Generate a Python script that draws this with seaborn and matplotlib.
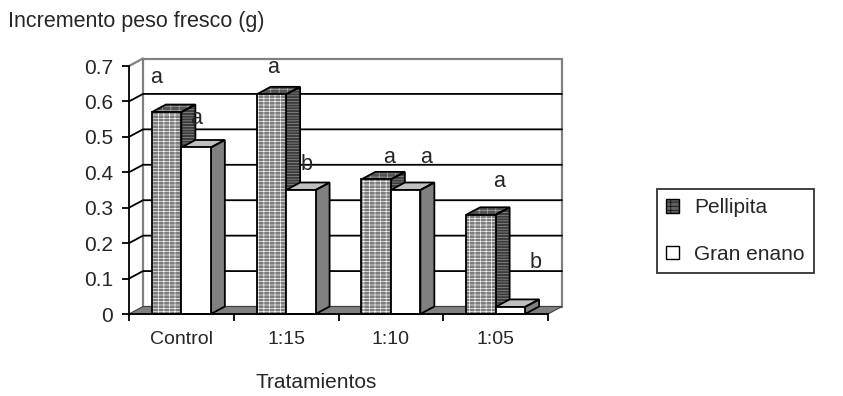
import matplotlib
matplotlib.use("Agg")
import matplotlib.pyplot as plt
from matplotlib.patches import Polygon, Patch
import numpy as np
import pandas as pd
import seaborn as sns

# ---- data ----
categories = ["Control", "1:15", "1:10", "1:05"]
series = ["Pellipita", "Gran enano"]
pellipita = [0.57, 0.62, 0.38, 0.28]
gran_enano = [0.47, 0.35, 0.35, 0.02]
letters_pellipita = ["a", "a", "a", "a"]
letters_gran_enano = ["a", "b", "a", "b"]
y_ticks = [0, 0.1, 0.2, 0.3, 0.4, 0.5, 0.6, 0.7]
y_tick_labels = ["0", "0.1", "0.2", "0.3", "0.4", "0.5", "0.6", "0.7"]

df = pd.DataFrame({
    "Tratamiento": categories * 2,
    "Variedad": [series[0]] * len(categories) + [series[1]] * len(categories),
    "valor": pellipita + gran_enano,
})

# ---- style ----
sns.set_style("white")
plt.rcParams["font.family"] = ["Liberation Sans", "DejaVu Sans"]
plt.rcParams["hatch.linewidth"] = 0.45

W, H = 843, 396
fig = plt.figure(figsize=(W / 100, H / 100), dpi=100)
ax = fig.add_axes([129 / W, (H - 314) / H, (548 - 129) / W, (314 - 66) / H])

sns.barplot(data=df, x="Tratamiento", y="valor", hue="Variedad",
            order=categories, hue_order=series,
            palette=["#7c7c7c", "#ffffff"], width=0.5626, gap=0,
            linewidth=0, legend=False, ax=ax)

ax.set_xlim(-0.5, len(categories) - 0.5)
ax.set_ylim(0, 0.7)

# depth of the 3-D look, in data units (x: categories, y: value)
DX = 14 / 104.75
DY = 7.5 / 354.3
x0, x1 = -0.5, len(categories) - 0.5
ytop = y_ticks[-1]

# back wall, floor and grid
ax.add_patch(Polygon([(x0 + DX, DY), (x1 + DX, DY), (x1 + DX, ytop + DY), (x0 + DX, ytop + DY)],
                     closed=True, facecolor="white", edgecolor="#808080", lw=1.6,
                     clip_on=False, zorder=0.5))
ax.plot([x0, x0 + DX], [ytop, ytop + DY], color="#808080", lw=1.6, clip_on=False, zorder=0.6)
for v in y_ticks[1:-1]:
    ax.plot([x0, x0 + DX, x1 + DX], [v, v + DY, v + DY], color="black", lw=1.3,
            clip_on=False, zorder=0.7)
ax.add_patch(Polygon([(x0, 0), (x1, 0), (x1 + DX, DY), (x0 + DX, DY)], closed=True,
                     facecolor="#808080", edgecolor="#404040", lw=0.8,
                     clip_on=False, zorder=0.8))


def face(verts, color, hatch, hatch_color, z):
    ax.add_patch(Polygon(verts, closed=True, facecolor=color, lw=0, clip_on=False, zorder=z))
    if hatch:
        ax.add_patch(Polygon(verts, closed=True, fill=False, hatch=hatch,
                             edgecolor=hatch_color, lw=0, clip_on=False, zorder=z + 0.01))
    ax.add_patch(Polygon(verts, closed=True, fill=False, edgecolor="black", lw=1.3,
                         clip_on=False, joinstyle="miter", zorder=z + 0.02))


styles = [
    # front, top, side : (color, hatch, hatch colour)
    dict(front=("#7c7c7c", "-----|||", "white"),
         top=("#555555", "----||", "#b0b0b0"),
         side=("#3c3c3c", "------", "#9a9a9a")),
    dict(front=("#ffffff", None, None),
         top=("#c0c0c0", None, None),
         side=("#808080", None, None)),
]

for k, cont in enumerate(ax.containers):
    st = styles[k]
    for j, bar in enumerate(cont):
        bx, bw, bh = bar.get_x(), bar.get_width(), bar.get_height()
        z = 2 + k + j * 0.1
        bar.set_zorder(z)
        bar.set_facecolor(st["front"][0])
        front = [(bx, 0), (bx + bw, 0), (bx + bw, bh), (bx, bh)]
        top = [(bx, bh), (bx + bw, bh), (bx + bw + DX, bh + DY), (bx + DX, bh + DY)]
        side = [(bx + bw, 0), (bx + bw + DX, DY), (bx + bw + DX, bh + DY), (bx + bw, bh)]
        face(side, *st["side"], z + 0.03)
        face(top, *st["top"], z + 0.03)
        face(front, *st["front"], z + 0.06)

# significance letters
letter_anchor = [(-0.242, 0.651), (0.137, 0.536), (0.872, 0.680), (1.199, 0.406),
                 (1.982, 0.425), (2.335, 0.425), (3.032, 0.359), (3.385, 0.130)]
letters = []
for p, g in zip(letters_pellipita, letters_gran_enano):
    letters += [p, g]
for (lx, ly), t in zip(letter_anchor, letters):
    ax.text(lx, ly, t, ha="center", va="baseline", fontsize=15.5, clip_on=False, zorder=10)

# axes
for s in ["top", "right"]:
    ax.spines[s].set_visible(False)
for s in ["left", "bottom"]:
    ax.spines[s].set_color("black")
    ax.spines[s].set_linewidth(1.3)
    ax.spines[s].set_zorder(9)

ax.set_yticks(y_ticks)
ax.set_yticklabels(y_tick_labels, fontsize=15)
ax.tick_params(axis="y", direction="out", length=5, width=1.3, color="black", pad=6.5, left=True)

ax.set_xticks(range(len(categories)))
ax.set_xticklabels(categories, fontsize=14)
ax.set_xticks(np.arange(-0.5, len(categories)), minor=True)
ax.tick_params(axis="x", which="major", length=0, pad=12)
ax.tick_params(axis="x", which="minor", direction="out", length=5, width=1.3,
               color="black", bottom=True)
ax.set_xlabel("")
ax.set_ylabel("")

fig.text(8 / W, 1 - 27.3 / H, "Incremento peso fresco (g)", fontsize=15.5,
         ha="left", va="baseline")
fig.text(316 / W, 1 - 388 / H, "Tratamientos", fontsize=15, ha="center", va="baseline")

handles = [Patch(facecolor="#606060", edgecolor="black", hatch="----||", lw=1.0),
           Patch(facecolor="white", edgecolor="black", lw=1.0)]
leg = fig.legend(handles, series, loc="upper left",
                 bbox_to_anchor=(657 / W, 1 - 189 / H), fontsize=15,
                 frameon=True, fancybox=False, shadow=False,
                 handlelength=0.6, handleheight=0.6, handletextpad=0.75,
                 labelspacing=1.33, borderpad=0.45, borderaxespad=0)
leg.get_frame().set_edgecolor("black")
leg.get_frame().set_linewidth(1.3)

fig.savefig("out.png", dpi=100, facecolor="white")
